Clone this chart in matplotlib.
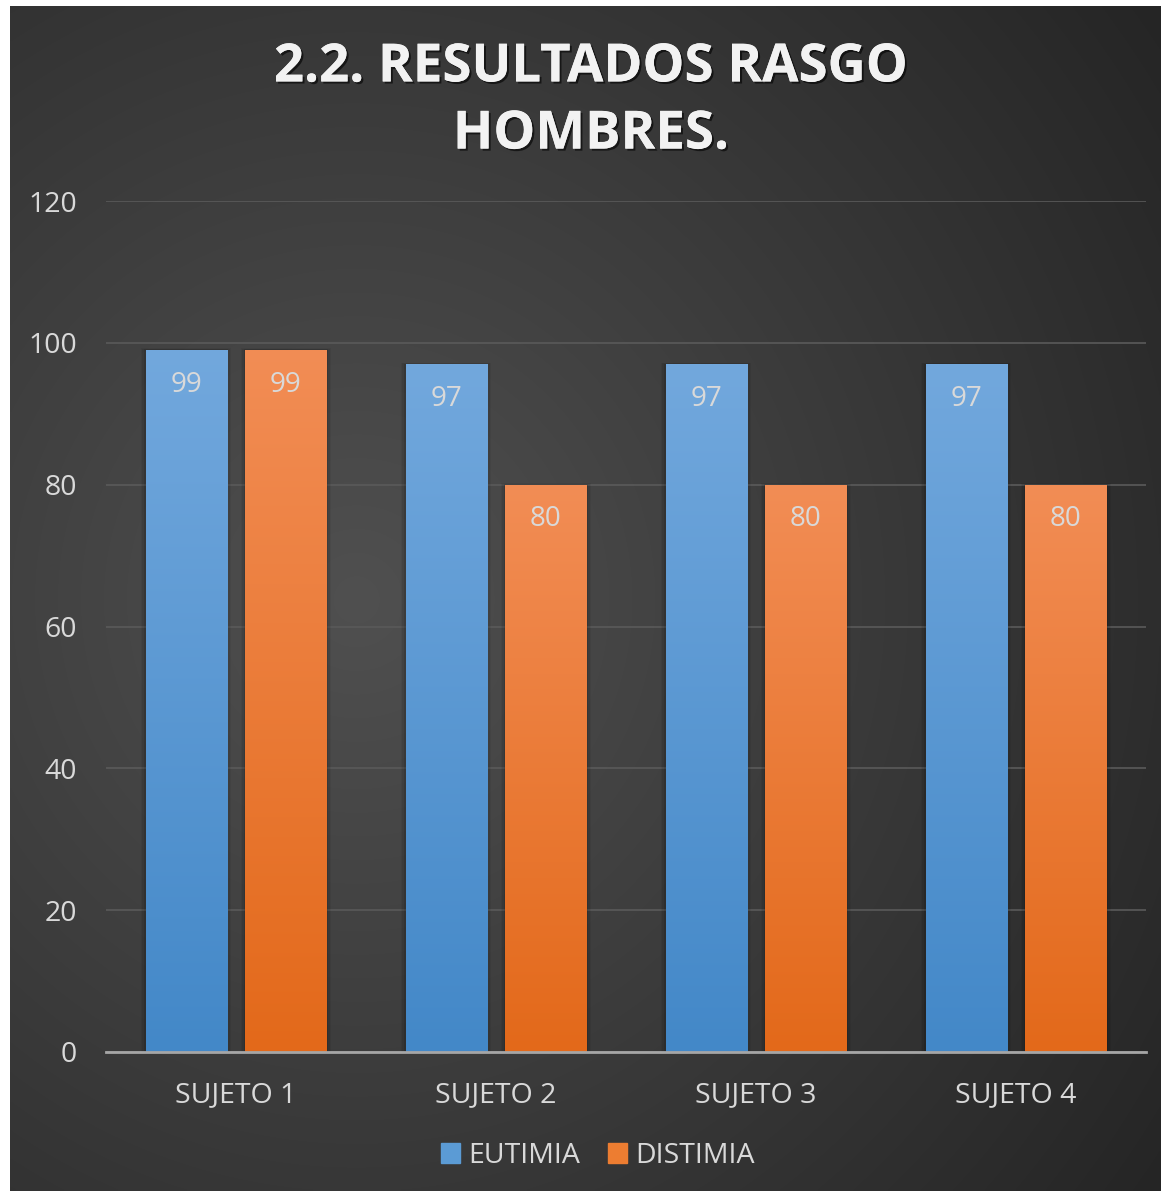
import numpy as np
import matplotlib
matplotlib.use("Agg")
import matplotlib.pyplot as plt
from matplotlib.colors import LinearSegmentedColormap
import matplotlib.patheffects as pe

categories = ["SUJETO 1", "SUJETO 2", "SUJETO 3", "SUJETO 4"]
eutimia = [99, 97, 97, 97]
distimia = [99, 80, 80, 80]
series_names = ["EUTIMIA", "DISTIMIA"]
yticks = [0, 20, 40, 60, 80, 100, 120]
title = "2.2. RESULTADOS RASGO\nHOMBRES."

plt.rcParams['font.family'] = ['Open Sans', 'DejaVu Sans']

W, H = 1161, 1191
fig = plt.figure(figsize=(W / 100, H / 100), dpi=100)
fig.patch.set_facecolor('white')

# background panel with radial gradient
bx0, by0 = 10 / W, 0
bw, bh = 1 - bx0, 1 - 6 / H
bg = fig.add_axes([bx0, by0, bw, bh])
bg.set_axis_off()
ny, nx = 400, 400
yy, xx = np.mgrid[0:ny, 0:nx]
cx, cy = nx * 0.30, ny * 0.50
r = np.sqrt(((xx - cx) / nx) ** 2 + ((yy - cy) / ny) ** 2)
r = r / r.max()
inner = np.array([0x50, 0x50, 0x50]) / 255
outer = np.array([0x25, 0x25, 0x25]) / 255
t = np.clip(r, 0, 1)
img = inner[None, None, :] * (1 - t[..., None]) + outer[None, None, :] * t[..., None]
bg.imshow(img, extent=[0, 1, 0, 1], aspect='auto', interpolation='bilinear')
bg.set_xlim(0, 1)
bg.set_ylim(0, 1)

# main axes
left, right = 106 / W, 1146 / W
y0px, y120px = 1052, 201
bottom = 1 - y0px / H
top = 1 - y120px / H
ax = fig.add_axes([left, bottom, right - left, top - bottom])
ax.set_facecolor('none')
ax.set_xlim(-0.5, len(categories) - 0.5)
ax.set_ylim(0, 120)

x = np.arange(len(categories))
bw_ = 0.312
off = 0.192

blue_cmap = LinearSegmentedColormap.from_list('b', ['#4388c8', '#72a8dd'])
orange_cmap = LinearSegmentedColormap.from_list('o', ['#e3691a', '#f28d55'])

grad = np.linspace(0, 1, 256).reshape(-1, 1)

for xs, vals, cmap, name in [(x - off, eutimia, blue_cmap, series_names[0]),
                             (x + off, distimia, orange_cmap, series_names[1])]:
    # soft shadows
    for k, a in [(0.018, 0.05), (0.012, 0.07), (0.006, 0.10)]:
        ax.bar(xs, np.array(vals) + k * 12, width=bw_ + 2 * k, color='black', alpha=a,
               zorder=2, linewidth=0)
    bars = ax.bar(xs, vals, width=bw_, color=cmap(0.5), zorder=3, label=name)
    for b, v in zip(bars, vals):
        bx = b.get_x()
        im = ax.imshow(grad, extent=[bx, bx + b.get_width(), 0, v], origin='lower',
                       cmap=cmap, aspect='auto', zorder=3.5, interpolation='bilinear')
        im.set_clip_path(b)
        ax.annotate(str(v), (b.get_x() + b.get_width() / 2, v), xytext=(0, -25),
                    textcoords='offset points', ha='center', va='center',
                    fontsize=20, color='#d9d9d9', zorder=5)

ax.set_yticks(yticks)
ax.set_yticklabels([str(v) for v in yticks])
ax.set_xticks(x)
ax.set_xticklabels(categories)
ax.tick_params(axis='y', length=0, pad=21, labelsize=20.5, labelcolor='#d9d9d9')
ax.tick_params(axis='x', length=0, pad=21, labelsize=20.5, labelcolor='#d9d9d9')
ax.grid(axis='y', color='#5a5a5a', linewidth=1.2, zorder=0)
ax.set_axisbelow(True)
for s in ['top', 'right', 'left']:
    ax.spines[s].set_visible(False)
ax.spines['bottom'].set_color('#a6a6a6')
ax.spines['bottom'].set_linewidth(2)
ax.spines['bottom'].set_zorder(6)

# title
fig.text(591 / W, 1 - 101 / H, title, ha='center', va='center', fontsize=38,
         fontweight='bold', color='#f2f2f2', linespacing=1.32,
         path_effects=[pe.withSimplePatchShadow(offset=(1.5, -1.5), shadow_rgbFace='black', alpha=0.6),
                       pe.Normal()])

# legend
handles, labels = ax.get_legend_handles_labels()
leg = fig.legend(handles, labels, loc='center', bbox_to_anchor=(598 / W, 1 - 1156 / H),
                 ncol=2, frameon=False, fontsize=20.5, labelcolor='#d9d9d9',
                 handlelength=0.65, handleheight=0.65, handletextpad=0.3, columnspacing=1.0)
for h, c in zip(leg.legend_handles, ['#5b9bd5', '#ed7d31']):
    h.set_color(c)
    h.set_alpha(1)

fig.savefig('out.png', dpi=100, facecolor=fig.get_facecolor())
